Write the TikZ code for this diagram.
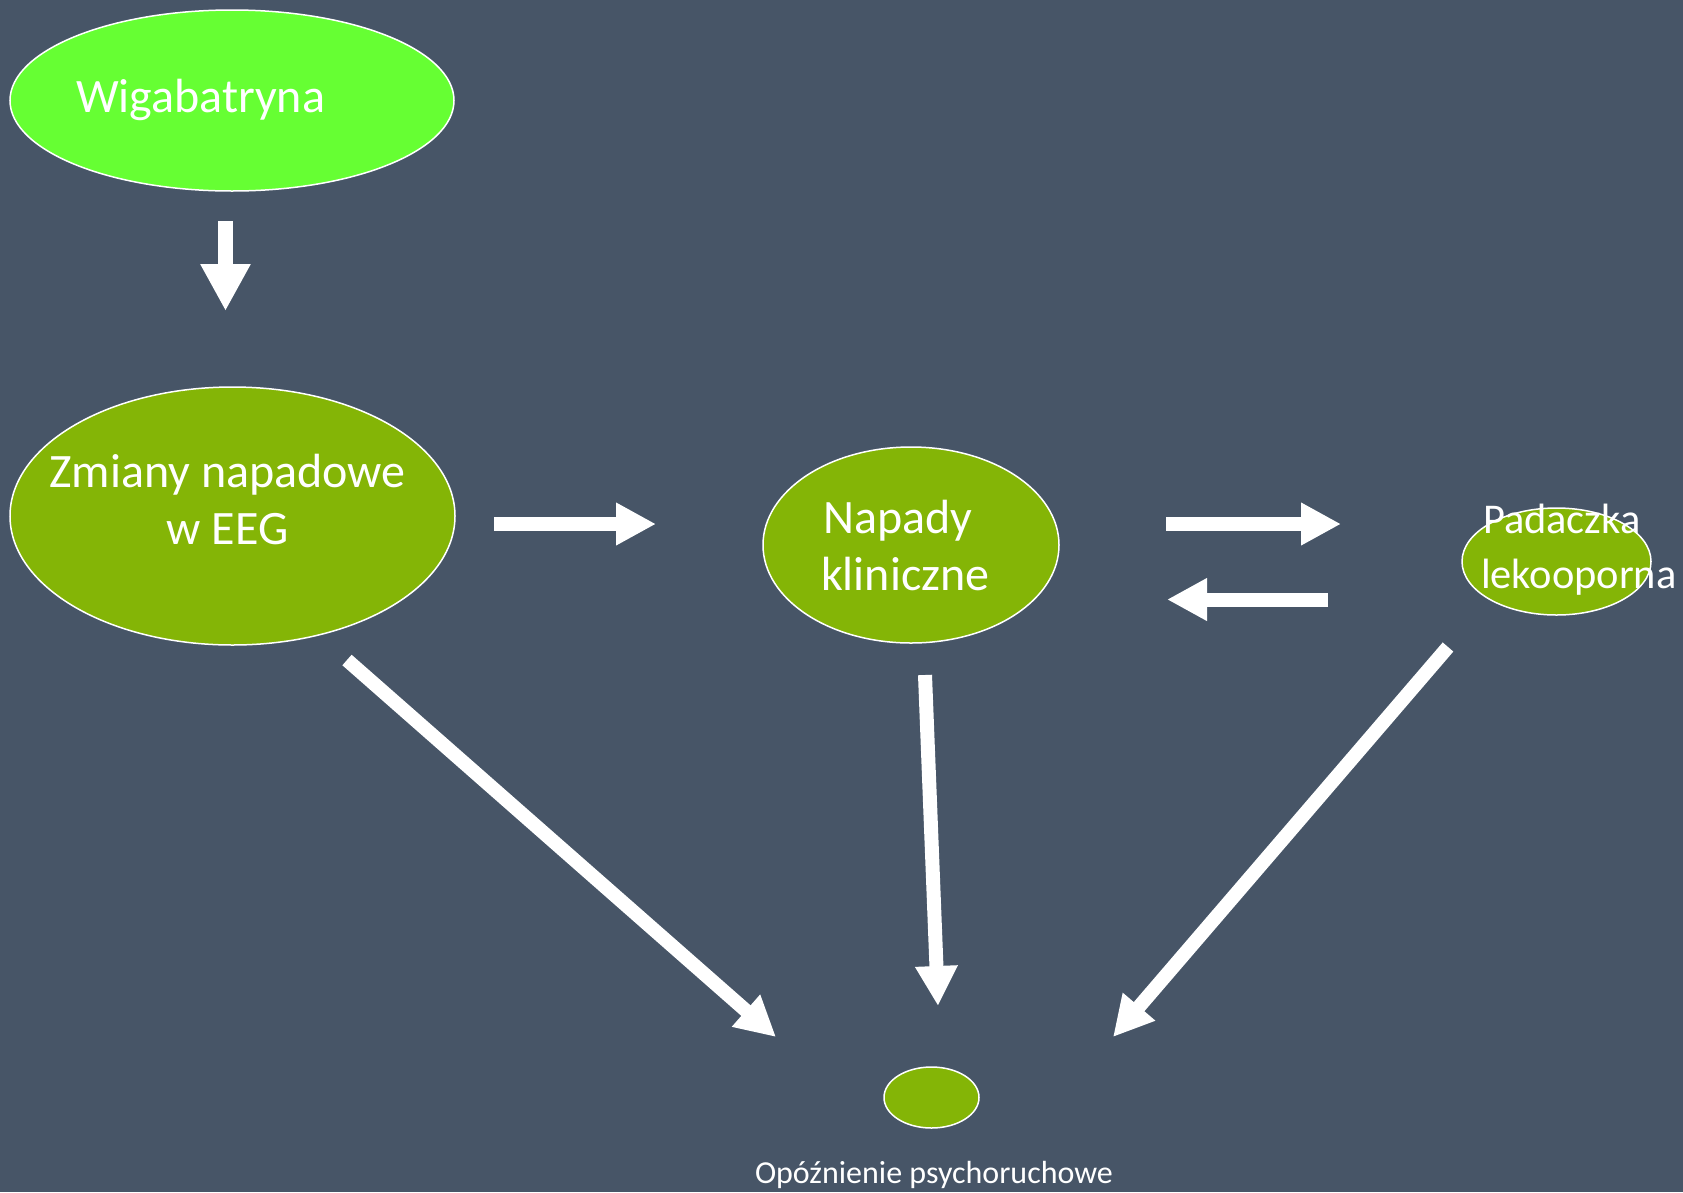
\documentclass[tikz,border=0pt]{standalone}
\usepackage{fontspec}
\setmainfont{Carlito}
\usetikzlibrary{shapes.geometric,arrows.meta}
\definecolor{bgc}{RGB}{71,85,103}
\definecolor{brightg}{RGB}{102,255,51}
\definecolor{oliveg}{RGB}{132,181,6}
\tikzset{
  blob/.style={ellipse, draw=white, line width=1.5pt, inner sep=0pt, outer sep=0pt},
  lbl/.style={text=white, inner sep=0pt, outer sep=0pt},
  big/.style={font=\fontsize{48pt}{57pt}\selectfont},
  mid/.style={font=\fontsize{42.4pt}{50pt}\selectfont},
  small/.style={font=\fontsize{32pt}{38pt}\selectfont},
  blockarrow/.style={draw=white, line width=14pt,
    -{Triangle[width=40pt,length=40pt]}},
}
\begin{document}
\begin{tikzpicture}[x=1pt,y=-1pt]
\fill[bgc] (0,0) rectangle (1683,1192);
\useasboundingbox (0,0) rectangle (1683,1192);

% nodes (ellipses)
\node[blob, fill=brightg, minimum width=444pt, minimum height=181pt] (wig) at (232,100.5) {};
\node[blob, fill=oliveg, minimum width=445pt, minimum height=258pt] (eeg) at (232.5,516) {};
\node[blob, fill=oliveg, minimum width=296pt, minimum height=196pt] (nap) at (911,545) {};
\node[blob, fill=oliveg, minimum width=189pt, minimum height=107pt] (pad) at (1556.5,561.5) {};
\node[blob, fill=oliveg, minimum width=95pt, minimum height=61pt] (opo) at (931.5,1097.5) {};

% texts
\node[lbl, big, anchor=base west] (twig) at (76,112) {Wigabatryna};
\node[lbl, big, anchor=base] (teeg1) at (227.5,487) {Zmiany napadowe};
\node[lbl, big, anchor=base] (teeg2) at (227.5,544) {w EEG};
\node[lbl, big, anchor=base west] (tnap1) at (823,533) {Napady};
\node[lbl, big, anchor=base west] (tnap2) at (821,590) {kliniczne};
\node[lbl, mid, anchor=base west] (tpad1) at (1483,533) {Padaczka};
\node[lbl, mid, anchor=base west] (tpad2) at (1481,588) {lekooporna};
\node[lbl, small, anchor=base west] (topo) at (755,1183) {Opóźnienie psychoruchowe};

% arrow end points
\coordinate (a1s) at (225.5,221);
\coordinate (a1e) at (225.5,311);
\coordinate (a2s) at (494,524);
\coordinate (a2e) at (656,524);
\coordinate (a3s) at (1166,524);
\coordinate (a3e) at (1341,524);
\coordinate (a4s) at (1328,599.5);
\coordinate (a4e) at (1167,599.5);
\coordinate (a5s) at (347,660);
\coordinate (a5e) at (776,1037);
\coordinate (a6s) at (925,675);
\coordinate (a6e) at (938,1006);
\coordinate (a7s) at (1448,647);
\coordinate (a7e) at (1113,1037);

\draw[blockarrow, line width=15pt, -{Triangle[width=47pt,length=47pt]}] (a1s) -- (a1e);
\draw[blockarrow] (a2s) -- (a2e);
\draw[blockarrow] (a3s) -- (a3e);
\draw[blockarrow] (a4s) -- (a4e);
\draw[blockarrow] (a5s) -- (a5e);
\draw[blockarrow] (a6s) -- (a6e);
\draw[blockarrow] (a7s) -- (a7e);
\end{tikzpicture}
\end{document}
